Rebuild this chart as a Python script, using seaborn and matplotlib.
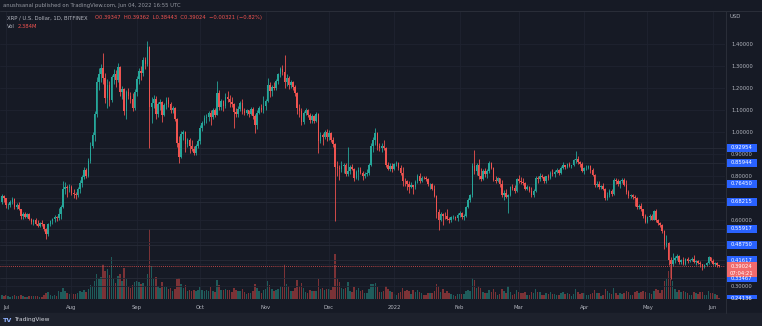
import numpy as np
import pandas as pd
import matplotlib
matplotlib.use("Agg")
import matplotlib.pyplot as plt
from matplotlib.patches import Rectangle
import seaborn as sns

# ---------------------------------------------------------------- data
first_day = "2021-06-29"
axis_origin = "2021-07-01"

opens = [
    .680, .710,
    .698, .667, .668, .684, .697, .659, .668, .648, .617, .628, .615, .626, .604, .592, .601, .582,
    .574, .586, .580, .558, .535, .582, .594, .603, .613, .608, .626, .660, .742, .752, .745,
    .752, .722, .718, .712, .742, .768, .795, .828, .802, .868, .938, .985, 1.080, 1.225, 1.262, 1.290,
    1.245, 1.155, 1.215, 1.145, 1.248, 1.262, 1.238, 1.295, 1.180, 1.195, 1.095, 1.180, 1.165, 1.148, 1.110,
    1.182, 1.240, 1.275, 1.268, 1.325, 1.310, 1.385, 1.115, 1.130, 1.150, 1.080, 1.125, 1.138, 1.078, 1.122,
    1.145, 1.128, 1.098, 1.110, 1.060, .948, .888, .992, .998, .945, .962, .938, .922, .905, .935,
    .958, 1.020, 1.040, 1.062, 1.070, 1.085, 1.068, 1.098, 1.078, 1.175, 1.115, 1.140, 1.120, 1.160, 1.150, 1.135,
    1.125, 1.090, 1.080, 1.105, 1.132, 1.095, 1.085, 1.098, 1.082, 1.105, 1.072, 1.030, 1.088, 1.110, 1.100,
    1.120, 1.140, 1.215, 1.185, 1.205, 1.198, 1.232, 1.262, 1.285, 1.272, 1.225, 1.245, 1.215, 1.225, 1.205,
    1.175, 1.110, 1.095, 1.045, 1.085, 1.098, 1.078, 1.055, 1.072, 1.048, 1.080, .960, .985, .978, .998,
    .975, .995, .965, .945, .840, .835, .830, .845, .852, .810, .822, .842, .832, .792, .818, .828,
    .815, .800, .810, .815, .850, .935, .962, .995, .935, .925, .938, .928, .848, .832, .845,
    .830, .855, .858, .838, .812, .778, .775, .762, .752, .758, .748, .775, .800, .778, .792, .790,
    .788, .762, .765, .742, .708, .638, .600, .628, .620, .618, .605, .602, .612, .614, .608,
    .622, .632, .612, .620, .660, .692, .712, .845, .822, .850, .800, .788, .825, .808,
    .822, .858, .838, .782, .778, .790, .762, .715, .725, .705, .715, .748, .745, .732,
    .785, .778, .772, .768, .740, .752, .730, .712, .732, .792, .785, .800, .795, .775, .798, .790,
    .815, .808, .820, .828, .815, .838, .848, .842, .855, .845, .848, .872, .875, .862, .855,
    .825, .835, .838, .845, .828, .805, .758, .765, .748, .755, .740, .702, .715, .732, .718,
    .782, .775, .762, .778, .782, .760, .728, .708, .712, .705, .700, .658, .662, .648, .618,
    .592, .612, .620, .602, .640, .598, .588, .578, .552, .488, .495, .420, .398, .420, .428, .438,
    .408, .418, .398, .422, .412, .420, .425, .410, .412, .406, .398, .385, .395, .405, .430,
    .415, .400, .405, .39347,
]
highs = [
    .720, .715,
    .700, .676, .690, .705, .698, .678, .680, .650, .635, .638, .632, .634, .610, .606, .608, .598,
    .592, .598, .583, .562, .588, .602, .607, .622, .618, .655, .668, .775, .772, .760, .765,
    .758, .740, .728, .748, .782, .805, .840, .835, .880, .955, 1.000, 1.095, 1.250, 1.290, 1.310, 1.360,
    1.268, 1.240, 1.230, 1.260, 1.285, 1.280, 1.315, 1.300, 1.210, 1.200, 1.190, 1.200, 1.180, 1.175, 1.195,
    1.255, 1.290, 1.300, 1.340, 1.340, 1.412, 1.390, 1.160, 1.170, 1.165, 1.135, 1.150, 1.140, 1.130, 1.158,
    1.160, 1.135, 1.120, 1.115, 1.065, .982, 1.005, 1.010, 1.005, .972, .972, .962, .935, .945, .968,
    1.030, 1.050, 1.075, 1.080, 1.095, 1.100, 1.110, 1.110, 1.230, 1.190, 1.150, 1.145, 1.175, 1.185, 1.170, 1.160,
    1.130, 1.110, 1.120, 1.140, 1.150, 1.110, 1.105, 1.102, 1.112, 1.115, 1.080, 1.100, 1.120, 1.125, 1.165,
    1.150, 1.245, 1.225, 1.215, 1.225, 1.240, 1.270, 1.295, 1.305, 1.350, 1.265, 1.255, 1.235, 1.232, 1.215,
    1.180, 1.125, 1.110, 1.095, 1.110, 1.105, 1.088, 1.080, 1.078, 1.090, 1.085, 1.000, .995, 1.010, 1.015,
    1.010, 1.000, .975, .950, .870, .850, .870, .860, .858, .930, .850, .855, .836, .828, .840, .842,
    .822, .818, .830, .860, .950, .978, 1.020, 1.002, .948, .950, .962, .930, .862, .860, .860,
    .860, .868, .862, .848, .840, .790, .782, .775, .772, .760, .782, .810, .815, .798, .800, .800,
    .790, .770, .770, .760, .712, .648, .635, .632, .635, .648, .615, .620, .622, .620, .630,
    .640, .638, .625, .665, .700, .720, .860, .920, .860, .878, .835, .830, .835, .830,
    .870, .865, .842, .800, .795, .792, .780, .735, .740, .720, .755, .762, .758, .792,
    .805, .795, .790, .772, .758, .755, .748, .740, .800, .798, .815, .808, .800, .802, .808, .822,
    .830, .825, .835, .830, .845, .862, .852, .860, .862, .852, .878, .915, .890, .868, .865,
    .842, .850, .852, .848, .838, .810, .775, .778, .760, .768, .745, .728, .740, .742, .790,
    .792, .785, .782, .792, .790, .782, .735, .718, .718, .712, .705, .672, .675, .652, .625,
    .618, .628, .625, .645, .648, .605, .592, .582, .555, .530, .500, .430, .450, .435, .445, .440,
    .425, .430, .428, .432, .425, .430, .440, .418, .420, .412, .402, .400, .410, .435, .432,
    .422, .408, .408, .39362,
]
lows = [
    .672, .680,
    .655, .648, .660, .672, .652, .650, .645, .605, .606, .610, .608, .598, .584, .575, .575, .568,
    .568, .574, .552, .515, .528, .572, .580, .592, .596, .602, .605, .655, .718, .705, .728,
    .712, .702, .695, .705, .722, .752, .785, .790, .795, .860, .928, .960, 1.070, 1.190, 1.225, 1.220,
    1.130, 1.110, 1.120, 1.138, 1.220, 1.205, 1.225, 1.165, 1.150, 1.075, 1.060, 1.150, 1.130, 1.095, 1.100,
    1.165, 1.220, 1.235, 1.255, 1.285, 1.300, .925, 1.040, 1.110, 1.060, 1.070, 1.100, 1.045, 1.072, 1.105,
    1.115, 1.085, 1.085, 1.050, .930, .860, .880, .965, .910, .930, .905, .915, .895, .895, .925,
    .945, 1.005, 1.030, 1.040, 1.050, 1.030, 1.060, 1.070, 1.075, 1.100, 1.100, 1.095, 1.110, 1.135, 1.115, 1.115,
    1.020, 1.070, 1.070, 1.095, 1.080, 1.075, 1.075, 1.070, 1.075, 1.060, .995, 1.015, 1.080, 1.090, 1.085,
    1.100, 1.135, 1.160, 1.165, 1.190, 1.190, 1.220, 1.250, 1.260, 1.200, 1.210, 1.195, 1.200, 1.190, 1.165,
    1.080, 1.070, 1.030, 1.035, 1.075, 1.070, 1.040, 1.040, 1.040, 1.045, .905, .950, .940, .970, .960,
    .962, .955, .930, .595, .800, .780, .820, .812, .800, .800, .810, .826, .775, .785, .780, .808,
    .780, .792, .798, .805, .845, .910, .940, .920, .915, .910, .920, .840, .825, .822, .820,
    .825, .845, .828, .806, .755, .755, .738, .722, .745, .718, .742, .768, .770, .772, .785, .778,
    .755, .742, .736, .705, .610, .555, .595, .575, .605, .600, .585, .592, .605, .600, .595,
    .615, .605, .598, .615, .655, .680, .705, .808, .805, .785, .775, .780, .795, .790,
    .815, .830, .775, .770, .772, .752, .705, .690, .700, .630, .710, .738, .722, .725,
    .770, .765, .760, .735, .735, .725, .705, .705, .728, .770, .775, .790, .770, .768, .780, .785,
    .800, .795, .815, .805, .810, .830, .830, .835, .840, .838, .845, .860, .855, .840, .818,
    .808, .828, .830, .815, .800, .750, .750, .740, .742, .735, .690, .690, .705, .710, .715,
    .765, .755, .745, .770, .755, .720, .700, .700, .695, .665, .652, .650, .640, .610, .585,
    .588, .600, .598, .598, .590, .575, .570, .540, .470, .475, .395, .330, .392, .405, .420, .398,
    .402, .395, .395, .405, .408, .415, .405, .395, .402, .385, .375, .380, .390, .400, .410,
    .395, .392, .388, .38443,
]
closes = [
    .710, .698,
    .667, .668, .684, .697, .659, .668, .648, .617, .628, .615, .626, .604, .592, .601, .582, .574,
    .586, .580, .558, .535, .582, .594, .603, .613, .608, .626, .660, .742, .752, .745, .752,
    .722, .718, .712, .742, .768, .795, .828, .802, .868, .938, .985, 1.080, 1.225, 1.262, 1.290, 1.245,
    1.155, 1.215, 1.145, 1.248, 1.262, 1.238, 1.295, 1.180, 1.195, 1.095, 1.180, 1.165, 1.148, 1.110, 1.182,
    1.240, 1.275, 1.268, 1.325, 1.310, 1.385, 1.115, 1.130, 1.150, 1.080, 1.125, 1.138, 1.078, 1.122, 1.145,
    1.128, 1.098, 1.110, 1.060, .948, .888, .992, .998, .945, .962, .938, .922, .905, .935, .958,
    1.020, 1.040, 1.062, 1.070, 1.085, 1.068, 1.098, 1.078, 1.175, 1.115, 1.140, 1.120, 1.160, 1.150, 1.135, 1.125,
    1.090, 1.080, 1.105, 1.132, 1.095, 1.085, 1.098, 1.082, 1.105, 1.072, 1.030, 1.088, 1.110, 1.100, 1.120,
    1.140, 1.215, 1.185, 1.205, 1.198, 1.232, 1.262, 1.285, 1.272, 1.225, 1.245, 1.215, 1.225, 1.205, 1.175,
    1.110, 1.095, 1.045, 1.085, 1.098, 1.078, 1.055, 1.072, 1.048, 1.080, .960, .985, .978, .998, .975,
    .995, .965, .945, .840, .835, .830, .845, .852, .810, .822, .842, .832, .792, .818, .828, .815,
    .800, .810, .815, .850, .935, .962, .995, .935, .925, .938, .928, .848, .832, .845, .830,
    .855, .858, .838, .812, .778, .775, .762, .752, .758, .748, .775, .800, .778, .792, .790, .788,
    .762, .765, .742, .708, .638, .600, .628, .620, .618, .605, .602, .612, .614, .608, .622,
    .632, .612, .620, .660, .692, .712, .845, .822, .850, .800, .788, .825, .808, .822,
    .858, .838, .782, .778, .790, .762, .715, .725, .705, .715, .748, .745, .732, .785,
    .778, .772, .768, .740, .752, .730, .712, .732, .792, .785, .800, .795, .775, .798, .790, .815,
    .808, .820, .828, .815, .838, .848, .842, .855, .845, .848, .872, .875, .862, .855, .825,
    .835, .838, .845, .828, .805, .758, .765, .748, .755, .740, .702, .715, .732, .718, .782,
    .775, .762, .778, .782, .760, .728, .708, .712, .705, .700, .658, .662, .648, .618, .592,
    .612, .620, .602, .640, .598, .588, .578, .552, .488, .495, .420, .398, .420, .428, .438, .408,
    .418, .398, .422, .412, .420, .425, .410, .412, .406, .398, .385, .395, .405, .430, .415,
    .400, .405, .39345, .39024,
]
# daily volume, millions of XRP
volumes = [
    8, 7,
    8, 6, 5, 6, 8, 7, 6, 9, 7, 5, 4, 6, 6, 7, 6, 7,
    5, 5, 8, 12, 14, 9, 7, 8, 6, 16, 14, 22, 16, 12, 10,
    12, 10, 11, 12, 16, 14, 18, 14, 20, 28, 26, 36, 50, 40, 44, 70,
    56, 60, 48, 84, 40, 32, 46, 50, 36, 62, 40, 24, 22, 28, 34,
    36, 34, 30, 32, 26, 50, 140, 66, 40, 44, 26, 22, 34, 24, 24,
    20, 22, 16, 20, 40, 42, 30, 22, 28, 16, 18, 16, 18, 16, 18,
    24, 18, 16, 18, 16, 24, 16, 14, 38, 28, 18, 18, 20, 18, 18, 14,
    22, 18, 16, 16, 20, 14, 10, 12, 12, 16, 30, 22, 16, 12, 18,
    20, 36, 28, 20, 16, 18, 20, 26, 24, 70, 30, 26, 16, 16, 22,
    38, 26, 32, 22, 14, 12, 18, 16, 16, 16, 40, 20, 22, 18, 20,
    20, 18, 24, 90, 40, 34, 22, 20, 22, 34, 16, 14, 24, 18, 22, 16,
    18, 12, 12, 20, 30, 30, 32, 24, 14, 14, 16, 26, 20, 16, 14,
    10, 8, 12, 14, 22, 16, 18, 16, 10, 18, 14, 18, 14, 12, 8, 8,
    12, 12, 12, 16, 30, 26, 14, 20, 12, 16, 12, 10, 8, 6, 10,
    10, 10, 10, 16, 18, 16, 42, 38, 22, 26, 22, 14, 12, 12,
    18, 14, 20, 14, 8, 10, 20, 16, 12, 26, 14, 8, 10, 18,
    14, 12, 12, 14, 8, 8, 14, 12, 20, 14, 14, 8, 8, 12, 10, 14,
    10, 10, 8, 8, 12, 14, 10, 12, 10, 6, 10, 20, 14, 10, 12,
    12, 8, 8, 10, 12, 18, 12, 12, 6, 8, 20, 16, 12, 10, 22,
    12, 8, 12, 10, 12, 16, 14, 8, 8, 14, 16, 12, 14, 16, 14,
    12, 12, 10, 16, 20, 18, 12, 18, 36, 40, 56, 72, 36, 20, 14, 18,
    14, 16, 14, 12, 8, 8, 14, 12, 10, 14, 14, 8, 8, 16, 12,
    12, 10, 8, 2.384,
]

month_labels = ["Jul", "Aug", "Sep", "Oct", "Nov", "Dec", "2022", "Feb", "Mar", "Apr", "May", "Jun"]
price_ticks = [0.3, 0.4, 0.5, 0.6, 0.7, 0.8, 0.9, 1.0, 1.1, 1.2, 1.3, 1.4]
level_values = [0.92954, 0.85944, 0.76450, 0.68215, 0.55917, 0.48750, 0.41617, 0.33467, 0.24136]
countdown = "07:04:21"
publisher_line = "anushsanal published on TradingView.com, Jun 04, 2022 16:55 UTC"
symbol_line = "XRP / U.S. Dollar, 1D, BITFINEX"

# ---------------------------------------------------------------- style
BG = "#161a25"
GRID = "#1f2330"
LEVEL = "#272b37"
TEXT = "#b2b5be"
UP, DOWN = "#26a69a", "#ef5350"
VOL_UP, VOL_DOWN = "#1f5c5b", "#7b3236"
TAG = "#2962ff"
FS = 3.8

sns.set_theme(style="dark", rc={
    "figure.facecolor": BG, "axes.facecolor": BG, "axes.edgecolor": BG,
    "text.color": TEXT, "xtick.color": TEXT, "ytick.color": TEXT,
})
plt.rcParams["font.family"] = ["DejaVu Sans"]

df = pd.DataFrame({"open": opens, "high": highs, "low": lows,
                   "close": closes, "volume": volumes})
dates = pd.date_range(first_day, periods=len(df), freq="D")
origin = pd.Timestamp(axis_origin)
df["day"] = (dates - origin).days
df["direction"] = np.where(df["close"] >= df["open"], "up", "down")
candle_colors = np.where(df["direction"] == "up", UP, DOWN)

W, H = 762, 326
fig = plt.figure(figsize=(W / 100, H / 100), dpi=100)

def fx(px):
    return px / W

def fy(py):
    return 1 - py / H

pane_top, pane_bottom, pane_right = 11, 299, 725
ax = fig.add_axes([0, fy(pane_bottom), fx(pane_right), (pane_bottom - pane_top) / H])

px_per_day = 2.11
px_per_unit = 220.0
x_left = -6 / px_per_day
x_right = x_left + pane_right / px_per_day
y_low = 0.6 - (pane_bottom - 220) / px_per_unit
y_high = 0.6 + (220 - pane_top) / px_per_unit

# volume overlay in the lower part of the pane
vax = ax.twinx()
sns.barplot(data=df, x="day", y="volume", hue="direction",
            palette={"up": VOL_UP, "down": VOL_DOWN}, native_scale=True,
            dodge=False, width=0.7, saturation=1, errorbar=None,
            legend=False, linewidth=0, ax=vax)
vax.set_ylim(0, 576)
vax.set_yticks([])
vax.set_ylabel("")
vax.set_xlabel("")
for s in vax.spines.values():
    s.set_visible(False)

ax.set_zorder(vax.get_zorder() + 1)
ax.patch.set_visible(False)

# candles
ax.vlines(df["day"], df["low"], df["high"], colors=candle_colors, linewidth=0.6, zorder=3)
body = (df["close"] - df["open"]).abs().clip(lower=0.002)
ax.bar(df["day"], body, bottom=np.minimum(df["open"], df["close"]), width=0.72,
       color=candle_colors, linewidth=0, zorder=4)

# horizontal levels and last price line
for v in level_values:
    ax.axhline(v, color=LEVEL, linewidth=0.6, zorder=1)
last_close = closes[-1]
ax.axhline(last_close, color=DOWN, linewidth=0.6, linestyle=(0, (1, 1.5)), zorder=5)

ax.set_xlim(x_left, x_right)
vax.set_xlim(x_left, x_right)
ax.set_ylim(y_low, y_high)

month_starts = pd.date_range("2021-07-01", "2022-06-01", freq="MS")
ax.set_xticks((month_starts - origin).days)
ax.set_xticklabels(month_labels)

# scale labels that sit under a price tag are covered by it, so leave them blank
tag_centres = level_values + [last_close - 3.5 / px_per_unit]
def tick_text(v):
    covered = any(abs(v - t) * px_per_unit < 6 for t in tag_centres)
    return "" if covered else f"{v:.5f}"
ax.set_yticks(price_ticks)
ax.set_yticklabels([tick_text(v) for v in price_ticks])
ax.yaxis.tick_right()
ax.tick_params(axis="x", length=0, pad=4.0, labelsize=FS, colors=TEXT)
ax.tick_params(axis="y", length=0, pad=4.3, labelsize=FS, colors=TEXT)
ax.grid(True, color=GRID, linewidth=0.6)
for s in ax.spines.values():
    s.set_visible(False)

# price scale tags
pax = fig.add_axes([fx(726), fy(pane_bottom), fx(36), (pane_bottom - pane_top) / H])
pax.set_xlim(0, 36)
pax.set_ylim(y_low, y_high)
pax.axis("off")
tag_h = 8 / px_per_unit
for v in level_values:
    pax.add_patch(Rectangle((0, v - tag_h / 2), 30.5, tag_h, color=TAG, linewidth=0))
    pax.text(15.2, v, f"{v:.5f}", color="white", fontsize=FS, ha="center", va="center")
pax.add_patch(Rectangle((0, last_close - 11 / px_per_unit), 30.5, 15 / px_per_unit,
                        color="#f06a6c", linewidth=0))
pax.text(15.2, last_close, f"{last_close:.5f}", color="white", fontsize=FS, ha="center", va="center")
pax.text(15.2, last_close - 7 / px_per_unit, countdown, color="white", fontsize=FS,
         ha="center", va="center")
fig.text(fx(729), fy(17), "USD", fontsize=FS, color=TEXT, ha="left", va="center")

# frame lines and bottom bar
fig.add_artist(plt.Line2D([0, 1], [fy(10.5), fy(10.5)], color="#2a2e39", linewidth=0.7))
fig.add_artist(plt.Line2D([fx(725.5), fx(725.5)], [fy(313), fy(10.5)], color="#2a2e39", linewidth=0.7))
fig.add_artist(Rectangle((0, 0), 1, 13 / H, transform=fig.transFigure, color="#1d212c", zorder=0))
fig.text(fx(3), fy(320), "TV", fontsize=4.6, color="#8fb1ff", fontweight="bold", ha="left", va="center")
fig.text(fx(14), fy(320), "TradingView", fontsize=4.2, color="#d1d4dc", ha="left", va="center")

# header
o, h, l, c = opens[-1], highs[-1], lows[-1], closes[-1]
chg = c - closes[-2]
pct = chg / closes[-2] * 100
fig.text(fx(3), fy(5), publisher_line, fontsize=FS, color="#9598a1", ha="left", va="center")
fig.text(fx(7), fy(18), symbol_line, fontsize=FS, color=TEXT, ha="left", va="center")
fig.text(fx(95), fy(18),
         f"O{o:.5f}  H{h:.5f}  L{l:.5f}  C{c:.5f}  \u2212{abs(chg):.5f} (\u2212{abs(pct):.2f}%)",
         fontsize=FS, color=DOWN, ha="left", va="center")
fig.text(fx(7), fy(27), "Vol", fontsize=FS, color=TEXT, ha="left", va="center")
fig.text(fx(18), fy(27), f"{volumes[-1]:.3f}M", fontsize=FS, color=DOWN, ha="left", va="center")

fig.savefig("out.png", dpi=100, facecolor=BG)
